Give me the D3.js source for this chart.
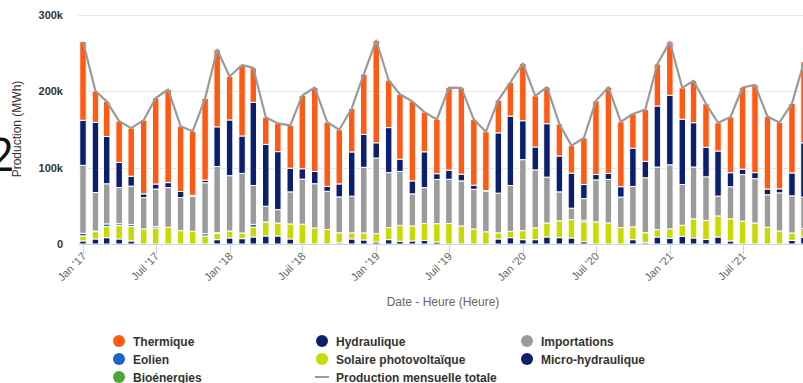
<!DOCTYPE html>
<html>
<head>
<meta charset="utf-8">
<script src="https://cdn.jsdelivr.net/npm/d3@7"></script>
<style>
  html, body { margin: 0; padding: 0; background: #fff; overflow: hidden; }
  svg { display: block; font-family: "Liberation Sans", Arial, sans-serif; }
</style>
</head>
<body>
<svg id="chart" width="803" height="383"></svg>
<script>
// Monthly production by source, Jan 2017 – Dec 2021 (MWh)
const months = d3.range(60).map(i => new Date(Date.UTC(2017, i, 1)));

const thermique = [103000, 41000, 46000, 54000, 63000, 96500, 112700, 122000, 85500, 83800,
  107000, 101000, 57000, 93000, 45000, 35500, 37000, 56000, 96000, 110000,
  84000, 71000, 57000, 79000, 134000, 62000, 85000, 104000, 52000, 71000,
  108000, 113000, 86000, 77000, 43000, 44000, 75000, 67000, 48000, 42000,
  36000, 61000, 96500, 113000, 85000, 45000, 68000, 55000, 70000, 41000,
  55000, 57000, 37000, 73000, 107000, 115000, 95000, 87000, 91000, 106000];

const hydraulique = [59000, 92000, 62000, 33000, 13000, 5000, 6600, 6600, 7900, 1500,
  3500, 52000, 73000, 49000, 109000, 81000, 76000, 31000, 13600, 16000,
  6600, 17000, 58000, 43000, 20000, 59000, 16000, 17000, 47000, 7500,
  12000, 8800, 5300, 1000, 79000, 91000, 51000, 30000, 70000, 47000,
  46000, 18400, 7000, 7900, 13600, 50000, 21500, 80000, 91000, 85500,
  58000, 38600, 59000, 18400, 7000, 7900, 7500, 5300, 30000, 71000];

const importations = [89000, 50400, 52600, 47400, 50400, 41000, 49000, 51800, 43400, 45600,
  66700, 86800, 72400, 78000, 51000, 20600, 17500, 42000, 59000, 58000,
  50000, 47000, 48000, 86000, 99000, 72000, 70600, 42000, 47000, 58000,
  58000, 59000, 52000, 53000, 52000, 60000, 93000, 76000, 60000, 38000,
  15000, 28500, 55000, 57000, 40000, 53000, 72000, 82000, 84000, 53500,
  68000, 57000, 26000, 42000, 61000, 58000, 42500, 50000, 48700, 41000];

const eolien = [3500, 800, 3500, 2500, 2500, 0, 2000, 0, 0, 0,
  3000, 1000, 0, 0, 3500, 0, 0, 0, 0, 0,
  0, 0, 0, 0, 0, 0, 0, 0, 0, 0,
  0, 0, 0, 0, 0, 0, 0, 0, 0, 0,
  0, 2000, 0, 0, 0, 0, 0, 0, 0, 0,
  0, 0, 0, 0, 0, 0, 0, 0, 0, 0];

const solaire = [6600, 9600, 14500, 17500, 18900, 19700, 21000, 22000, 17500, 16700,
  10500, 8000, 9200, 7500, 13000, 18400, 17000, 19700, 26000, 21000,
  19000, 13000, 8000, 9200, 11000, 15800, 21000, 19700, 22000, 24000,
  26800, 23700, 19700, 16000, 8000, 8300, 11800, 15400, 18400, 22000,
  24000, 26000, 29000, 27600, 21500, 16700, 13000, 9600, 12300, 14500,
  25000, 25000, 27600, 29000, 30000, 27600, 22000, 17000, 9600, 11500];

const microHydraulique = [4000, 6600, 8300, 6600, 4000, 0, 0, 0, 0, 0,
  0, 5700, 7900, 7000, 9200, 10500, 10500, 6600, 0, 0,
  0, 1700, 6600, 5300, 2600, 5700, 3500, 4000, 4800, 2600,
  0, 0, 0, 0, 6600, 8300, 5700, 5700, 9200, 8300,
  7900, 3000, 0, 0, 0, 5700, 1800, 9200, 7500, 10000,
  7900, 6000, 9200, 4000, 0, 0, 0, 0, 4800, 9000];

const bioenergies = new Array(60).fill(0);

// Series in legend order; the first one is stacked on top
const seriesNames = ["Thermique", "Hydraulique", "Importations", "Eolien",
  "Solaire photovoltaïque", "Micro-hydraulique", "Bioénergies"];
const seriesValues = [thermique, hydraulique, importations, eolien,
  solaire, microHydraulique, bioenergies];
const seriesColors = ["#ff5a14", "#0b1f6e", "#9b9b9b", "#1a66c8",
  "#c8da00", "#0b1f6e", "#4ea53a"];
const lineName = "Production mensuelle totale";

const yTicks = [0, 100000, 200000, 300000];
const yTickLabels = ["0", "100k", "200k", "300k"];
const xTicks = d3.range(0, 60, 6).map(i => months[i]);
const xTickLabels = ["Jan '17", "Juil '17", "Jan '18", "Juil '18", "Jan '19",
  "Juil '19", "Jan '20", "Juil '20", "Jan '21", "Juil '21"];

const svg = d3.select("#chart");
const plotLeft = 78;

const x = d3.scaleUtc()
  .domain([months[0], months[59]])
  .range([83, 804]);
const y = d3.scaleLinear().domain([0, 300000]).range([244, 15]);

// stray heading glyph at the left edge
svg.append("text")
  .attr("x", -12).attr("y", 171)
  .attr("font-size", 46).attr("fill", "#111")
  .attr("font-family", "'Open Sans', sans-serif")
  .text("2");

// grid lines
svg.append("g").selectAll("line")
  .data(yTicks.slice(1))
  .join("line")
  .attr("x1", plotLeft).attr("x2", 803)
  .attr("y1", d => Math.round(y(d)) + 0.5).attr("y2", d => Math.round(y(d)) + 0.5)
  .attr("stroke", "#e6e6e6").attr("stroke-width", 1);

// y labels
svg.append("g").selectAll("text")
  .data(yTicks)
  .join("text")
  .attr("x", 63).attr("y", d => y(d) + 4)
  .attr("text-anchor", "end")
  .attr("font-size", 11).attr("font-weight", "bold").attr("fill", "#333")
  .text((d, i) => yTickLabels[i]);

svg.append("text")
  .attr("transform", "translate(21,129) rotate(-90)")
  .attr("text-anchor", "middle")
  .attr("font-size", 12).attr("fill", "#333")
  .text("Production (MWh)");

// stacked bars
const rows = months.map((m, i) => {
  const r = { date: m };
  seriesNames.forEach((n, k) => { r[n] = seriesValues[k][i]; });
  return r;
});
const stack = d3.stack().keys(seriesNames.slice().reverse());
const layers = stack(rows);
const barW = 6.5;

svg.append("g").selectAll("g")
  .data(layers)
  .join("g")
  .attr("fill", d => seriesColors[seriesNames.indexOf(d.key)])
  .selectAll("rect")
  .data(d => d.filter(p => p[1] - p[0] > 0))
  .join("rect")
  .attr("x", p => x(p.data.date) - barW / 2)
  .attr("width", barW)
  .attr("y", p => y(p[1]))
  .attr("height", p => y(p[0]) - y(p[1]))
  .attr("stroke", "#fff").attr("stroke-width", 1);

// x axis
svg.append("line")
  .attr("x1", plotLeft).attr("x2", 803)
  .attr("y1", 244.5).attr("y2", 244.5)
  .attr("stroke", "#ccd6eb");
svg.append("g").selectAll("line")
  .data(xTicks)
  .join("line")
  .attr("x1", d => Math.round(x(d)) + 0.5).attr("x2", d => Math.round(x(d)) + 0.5)
  .attr("y1", 244.5).attr("y2", 254)
  .attr("stroke", "#ccd6eb");
svg.append("g").selectAll("text")
  .data(xTicks)
  .join("text")
  .attr("transform", d => `translate(${x(d) + 4},257) rotate(-45)`)
  .attr("text-anchor", "end")
  .attr("font-size", 11).attr("fill", "#666")
  .text((d, i) => xTickLabels[i]);

svg.append("text")
  .attr("x", 443).attr("y", 306)
  .attr("text-anchor", "middle")
  .attr("font-size", 12).attr("fill", "#666")
  .text("Date - Heure (Heure)");

// total line
const totals = months.map((m, i) => d3.sum(seriesValues, s => s[i]));
svg.append("path")
  .datum(totals)
  .attr("d", d3.line().x((d, i) => x(months[i])).y(d => y(d)))
  .attr("fill", "none")
  .attr("stroke", "#9a9a9a").attr("stroke-width", 2.2)
  .attr("stroke-linejoin", "round");

// legend
const legendItems = seriesNames.map((n, k) => ({ name: n, color: seriesColors[k], type: "bar" }))
  .concat([{ name: lineName, color: "#9a9a9a", type: "line" }]);
const colX = [119, 322, 527];
const rowY = [341, 359, 377];
const lg = svg.append("g").selectAll("g")
  .data(legendItems)
  .join("g")
  .attr("transform", (d, i) => `translate(${colX[i % 3]},${rowY[Math.floor(i / 3)]})`);
lg.filter(d => d.type === "bar").append("circle")
  .attr("r", 6).attr("fill", d => d.color);
lg.filter(d => d.type === "line").append("line")
  .attr("x1", -7).attr("x2", 7).attr("stroke", d => d.color).attr("stroke-width", 2);
lg.append("text")
  .attr("x", 14).attr("y", 4.5)
  .attr("font-size", 12).attr("font-weight", "bold").attr("fill", "#333")
  .text(d => d.name);
</script>
</body>
</html>
